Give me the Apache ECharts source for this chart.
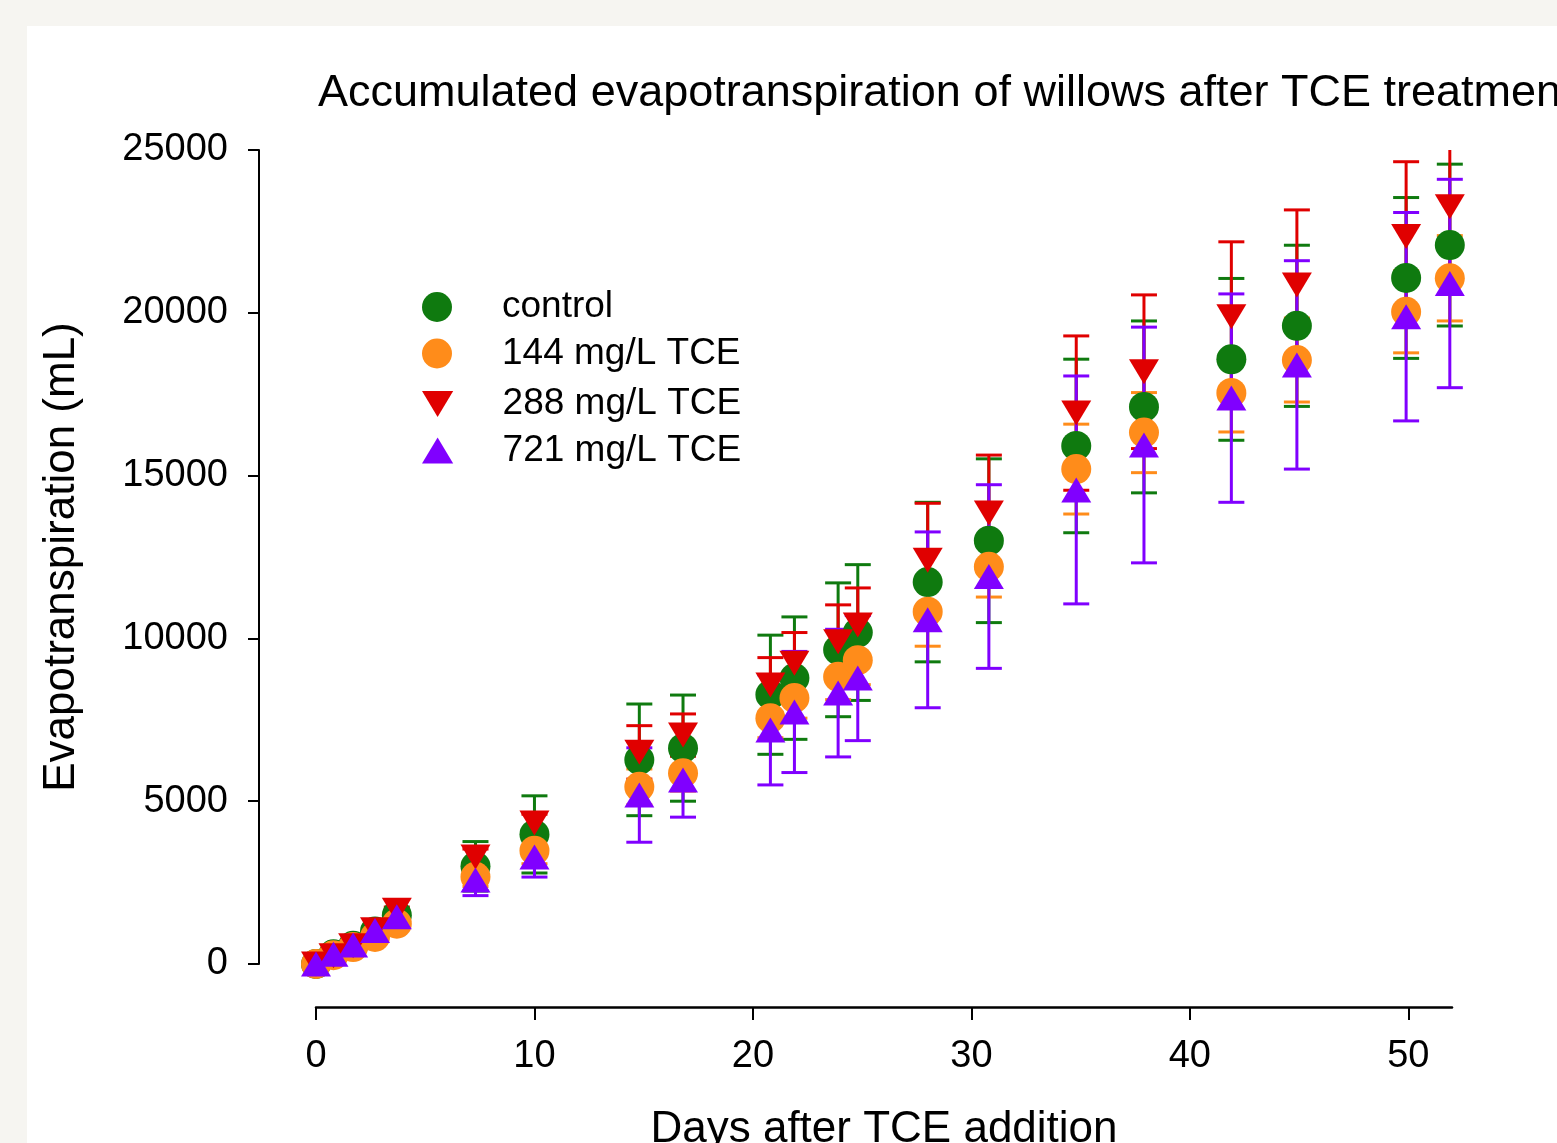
<!DOCTYPE html>
<html>
<head>
<meta charset="utf-8">
<script src="https://cdn.jsdelivr.net/npm/echarts@6/dist/echarts.min.js"></script>
<style>
html,body{margin:0;padding:0;background:#f6f5f1;width:1557px;height:1143px;overflow:hidden;}
#chart{position:absolute;left:0;top:0;width:1557px;height:1143px;}
</style>
</head>
<body>
<div id="chart"></div>
<script>
// ---- data ----
const days = [0, 0.8, 1.7, 2.7, 3.7, 7.3, 10, 14.8, 16.8, 20.8, 21.9, 23.9, 24.8, 28, 30.8, 34.8, 37.9, 41.9, 44.9, 49.9, 51.9];

const controlMean = [0, 300, 560, 1000, 1500, 3000, 3980, 6270, 6630, 8270, 8780, 9650, 10180, 11730, 13000, 15910, 17110, 18570, 19600, 21070, 22080];
const controlSD   = [50, 60, 80, 100, 120, 760, 1185, 1715, 1630, 1830, 1880, 2055, 2085, 2450, 2515, 2665, 2640, 2485, 2475, 2470, 2485];

const tce144Mean = [0, 270, 520, 830, 1240, 2680, 3480, 5440, 5860, 7550, 8170, 8820, 9330, 10820, 12200, 15200, 16320, 17540, 18550, 20030, 21060];
const tce144SD   = [40, 50, 60, 80, 100, 300, 400, 550, 550, 600, 620, 700, 750, 1060, 930, 1380, 1230, 1200, 1290, 1260, 1310];

const tce288Mean = [0, 250, 560, 1050, 1650, 3290, 4330, 6500, 7030, 8570, 9240, 9900, 10410, 12400, 13850, 16920, 18190, 19880, 20850, 22340, 23260];
const tce288SD   = [40, 50, 60, 80, 100, 240, 270, 820, 650, 840, 940, 1130, 1140, 1750, 1780, 2370, 2360, 2300, 2310, 2300, 2200];

const tce721Mean = [0, 300, 580, 1030, 1450, 2580, 3290, 5190, 5650, 7190, 7740, 8320, 8780, 10570, 11900, 14560, 15940, 17380, 18400, 19880, 20900];
const tce721SD   = [40, 50, 60, 80, 100, 480, 620, 1450, 1140, 1690, 1860, 1960, 1920, 2700, 2820, 3500, 3620, 3200, 3200, 3200, 3200];

const seriesNames = ['control', '144 mg/L TCE', '288 mg/L TCE', '721 mg/L TCE'];
const xTicks = [0, 10, 20, 30, 40, 50];
const yTicks = [0, 5000, 10000, 15000, 20000, 25000];

// ---- styling ----
const FONT = 'Liberation Sans, Arial, sans-serif';
const colors = ['#0f7a0f', '#ff8c1a', '#e00000', '#8000ff'];

function points(means) {
  return days.map((d, i) => [d, means[i]]);
}
function errData(means, sds) {
  return days.map((d, i) => [d, means[i] - sds[i], means[i] + sds[i]]);
}

function errSeries(name, means, sds, color) {
  return {
    type: 'custom',
    name: name + ' SD',
    data: errData(means, sds),
    encode: { x: 0, y: [1, 2] },
    clip: false,
    silent: true,
    renderItem: function (params, api) {
      const x = api.value(0);
      const pLo = api.coord([x, api.value(1)]);
      const pHi = api.coord([x, api.value(2)]);
      const top = params.coordSys.y;
      const cx = pLo[0];
      let yHi = pHi[1];
      const capHi = yHi >= top;
      if (!capHi) yHi = top;
      const yLo = pLo[1];
      const half = 13;
      const style = { stroke: color, lineWidth: 3 };
      const children = [
        { type: 'line', shape: { x1: cx, y1: yLo, x2: cx, y2: yHi }, style: style },
        { type: 'line', shape: { x1: cx - half, y1: yLo, x2: cx + half, y2: yLo }, style: style }
      ];
      if (capHi) {
        children.push({ type: 'line', shape: { x1: cx - half, y1: yHi, x2: cx + half, y2: yHi }, style: style });
      }
      return { type: 'group', children: children };
    }
  };
}

function scatterSeries(name, means, color, symbol, size, rotate) {
  return {
    type: 'scatter',
    name: name,
    data: points(means),
    symbol: symbol,
    symbolSize: size,
    symbolRotate: rotate,
    clip: false,
    itemStyle: { color: color, opacity: 1 },
    emphasis: { disabled: true }
  };
}

const chart = echarts.init(document.getElementById('chart'), null, { renderer: 'canvas', width: 1557, height: 1143 });

const option = {
  backgroundColor: '#f6f5f1',
  animation: false,
  graphic: {
    elements: [
      { type: 'rect', z: -100, silent: true, shape: { x: 27, y: 26, width: 1530, height: 1117 }, style: { fill: '#ffffff' } }
    ]
  },
  title: {
    text: 'Accumulated evapotranspiration of willows after TCE treatment',
    left: 318,
    top: 71,
    padding: 0,
    textStyle: { fontFamily: FONT, fontSize: 45, fontWeight: 'normal', color: '#000' }
  },
  legend: [
    {
      orient: 'vertical',
      left: 417,
      top: 282,
      itemWidth: 120,
      itemHeight: 30,
      itemGap: 6.5,
      symbolRotate: 0,
      selectedMode: false,
      data: [
        { name: seriesNames[0], icon: 'circle' },
        { name: seriesNames[1], icon: 'circle' }
      ],
      textStyle: { fontFamily: FONT, fontSize: 37, color: '#000', lineHeight: 40 }
    },
    {
      orient: 'vertical',
      left: 417,
      top: 379,
      itemWidth: 120,
      itemHeight: 26,
      itemGap: 6.5,
      symbolRotate: 0,
      selectedMode: false,
      data: [
        { name: seriesNames[2], icon: 'path://M0,0 L30,0 L15,25 Z' },
        { name: seriesNames[3], icon: 'path://M15,0 L30,25 L0,25 Z' }
      ],
      textStyle: { fontFamily: FONT, fontSize: 37, color: '#000', lineHeight: 40 }
    }
  ],
  grid: { left: 316, right: 105, top: 150, bottom: 179, containLabel: false, outerBoundsMode: 'none' },
  xAxis: {
    type: 'value',
    min: xTicks[0],
    max: 52,
    interval: 10,
    offset: 43,
    name: 'Days after TCE addition',
    nameLocation: 'middle',
    nameGap: 101,
    nameTextStyle: { fontFamily: FONT, fontSize: 44, color: '#000' },
    axisLine: { show: true, onZero: false, lineStyle: { color: '#000', width: 2.5 } },
    axisTick: { show: true, length: 13, lineStyle: { color: '#000', width: 2 } },
    axisLabel: {
      fontFamily: FONT, fontSize: 38, color: '#000', margin: 31,
      showMaxLabel: false,
      formatter: function (v) { return xTicks.indexOf(v) >= 0 ? String(v) : ''; }
    },
    splitLine: { show: false }
  },
  yAxis: {
    type: 'value',
    min: yTicks[0],
    max: yTicks[yTicks.length - 1],
    interval: 5000,
    offset: 57,
    name: 'Evapotranspiration (mL)',
    nameLocation: 'middle',
    nameRotate: 90,
    nameGap: 175,
    nameTextStyle: { fontFamily: FONT, fontSize: 44, color: '#000' },
    axisLine: { show: true, onZero: false, lineStyle: { color: '#000', width: 2 } },
    axisTick: { show: true, length: 11, lineStyle: { color: '#000', width: 2 } },
    axisLabel: {
      fontFamily: FONT, fontSize: 38, color: '#000', margin: 31,
      formatter: function (v) { return String(v); }
    },
    splitLine: { show: false }
  },
  series: [
    errSeries(seriesNames[0], controlMean, controlSD, colors[0]),
    scatterSeries(seriesNames[0], controlMean, colors[0], 'circle', 30, 0),
    errSeries(seriesNames[1], tce144Mean, tce144SD, colors[1]),
    scatterSeries(seriesNames[1], tce144Mean, colors[1], 'circle', 30, 0),
    errSeries(seriesNames[2], tce288Mean, tce288SD, colors[2]),
    scatterSeries(seriesNames[2], tce288Mean, colors[2], 'triangle', [30, 25], 180),
    errSeries(seriesNames[3], tce721Mean, tce721SD, colors[3]),
    scatterSeries(seriesNames[3], tce721Mean, colors[3], 'triangle', [30, 25], 0)
  ]
};
chart.setOption(option);
</script>
</body>
</html>
